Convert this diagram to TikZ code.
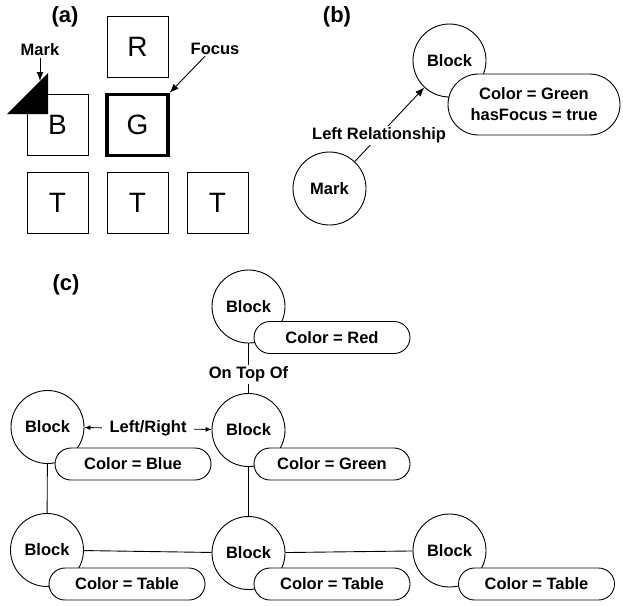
\documentclass[tikz,border=0pt]{standalone}
\usepackage{fontspec}
\setmainfont{Liberation Sans}
\usetikzlibrary{positioning}
\usetikzlibrary{shapes.misc}
\usetikzlibrary{arrows.meta}
\tikzset{
  tile/.style={draw, line width=0.9pt, minimum size=61, inner sep=0, font=\fontsize{28}{28}\selectfont\mdseries},
  blk/.style={draw, circle, line width=0.9pt, minimum size=73, inner sep=0, fill=white},
  attr/.style={draw, rounded rectangle, line width=0.9pt, minimum width=156, minimum height=32, inner sep=0, fill=white},
  lbl/.style={fill=white, inner sep=2},
  tag/.style={font=\fontsize{22}{22}\selectfont\bfseries},
}

\begin{document}
\begin{tikzpicture}[x=1pt, y=-1pt, line width=0.9pt, font=\fontsize{16.5}{21}\selectfont\bfseries, >={Latex[length=9,width=7]}]
			\useasboundingbox (0,0) rectangle (623,605);
			% (a)
			\node[tag] (taga) at (65,17) {(a)};
			\node[tile] (R) at (137.5,47) {R};
			\node[tile] (B) at (57.5,125) {B};
			\node[tile, line width=3.5pt] (G) at (137.5,125) {G};
			\node[tile] (T1) at (57.5,202.5) {T};
			\node[tile] (T2) at (137.5,202.5) {T};
			\node[tile] (T3) at (217.5,202.5) {T};
			\fill[black] (7,114) -- (48,73) -- (48,114) -- cycle;
			\node[inner sep=1] (markA) at (40,50) {Mark};
			\coordinate (markTip) at (40,81);
			\draw[->] (markA) -- (markTip);
			\node[inner sep=1] (focus) at (215,49) {Focus};
			\draw[->] ([xshift=-10pt]focus.south) -- (G.north east);
			% (b)
			\node[tag] (tagb) at (337,17) {(b)};
			\node[blk] (blkB) at (449.5,60.5) {Block};
			\node[attr, minimum width=172, minimum height=61, align=center] (attrB) at (534,104.5) {Color = Green\\hasFocus = true};
			\node[blk] (markB) at (329.5,188.5) {Mark};
			\draw[->] (markB) -- node[lbl, pos=0.35] {Left Relationship} (blkB);
			% (c)
			\node[tag] (tagc) at (66,285) {(c)};
			\node[blk] (top) at (248.5,306.5) {Block};
			\node[blk] (lft) at (47.5,427) {Block};
			\node[blk] (mid) at (248.5,430) {Block};
			\node[blk] (bl) at (47,550) {Block};
			\node[blk] (bm) at (248.5,553) {Block};
			\node[blk] (br) at (449.5,550.5) {Block};
			\draw (top) -- node[lbl, pos=0.63] {On Top Of} (mid);
			\draw[<->, >={Latex[length=6,width=5]}] (lft) -- node[lbl, inner xsep=8] {Left/Right} (mid);
			\draw (lft) -- (bl);
			\draw (mid) -- (bm);
			\draw (bl) -- (bm);
			\draw (bm) -- (br);
			\node[attr] (aTop) at (332,337.5) {Color = Red};
			\node[attr] (aLft) at (133,464) {Color = Blue};
			\node[attr] (aMid) at (332,464) {Color = Green};
			\node[attr] (aBl) at (127,584) {Color = Table};
			\node[attr] (aBm) at (332,584) {Color = Table};
			\node[attr] (aBr) at (536.5,584) {Color = Table};
\end{tikzpicture}
\end{document}
